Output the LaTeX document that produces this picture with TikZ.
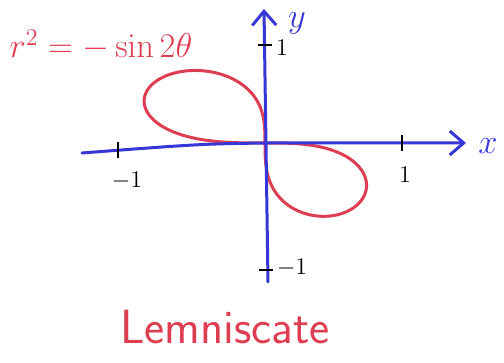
\documentclass[tikz,border=0pt]{standalone}
\usepackage{amsmath}
\usetikzlibrary{arrows.meta}
\definecolor{penblue}{RGB}{55,55,215}
\definecolor{penred}{RGB}{222,62,82}

\begin{document}
\begin{tikzpicture}[x=0.5pt, y=0.5pt,
    axis/.style={penblue, line width=1.5pt, line cap=round,
      -{Straight Barb[length=7pt, width=12pt, line width=1.5pt]}},
    tick/.style={black, line width=1pt},
    ticklabel/.style={font=\large},
    pen/.style={penred, line width=1.5pt, line cap=round}]
  \useasboundingbox (0, 0) rectangle (504, 363);

  \coordinate (O) at (265, 220);
  \coordinate (Xl) at (82, 210);
  \coordinate (Xr) at (466, 220);
  \coordinate (Yb) at (268, 81);
  \coordinate (Yt) at (264, 354);

  \draw[pen] plot[domain=90:180, samples=120, smooth]
    ({265 + 150*sqrt(abs(sin(2*\x)))*cos(\x)}, {220 + 90*sqrt(abs(sin(2*\x)))*sin(\x)});
  \draw[pen] plot[domain=270:360, samples=120, smooth]
    ({265 + 126*sqrt(abs(sin(2*\x)))*cos(\x)}, {220 + 91*sqrt(abs(sin(2*\x)))*sin(\x)});

  \draw[axis] (Xl) .. controls (200, 219) .. (O) -- (Xr);
  \draw[axis] (Yb) -- (Yt);

  \draw[tick] (402, 212) -- (402, 228);
  \draw[tick] (118, 205) -- (118, 221);
  \draw[tick] (258, 318) -- (272, 318);
  \draw[tick] (259, 93) -- (273, 93);

  \node[ticklabel] (xone) at (405, 188) {1};
  \node[ticklabel] (xmone) at (127, 182) {$-1$};
  \node[ticklabel] (yone) at (282, 315) {1};
  \node[ticklabel] (ymone) at (292, 95) {$-1$};

  \node[penblue, font=\LARGE] (xlabel) at (488, 217) {$x$};
  \node[penblue, font=\LARGE] (ylabel) at (297, 340) {$y$};

  \node[penred, font=\fontsize{16.5}{19}\selectfont] (eqn) at (101, 318)
    {$r^2=-\sin 2\theta$};
  \node[penred, font=\sffamily\fontsize{24}{28}\selectfont] (name) at (225, 36)
    {Lemniscate};
\end{tikzpicture}
\end{document}
